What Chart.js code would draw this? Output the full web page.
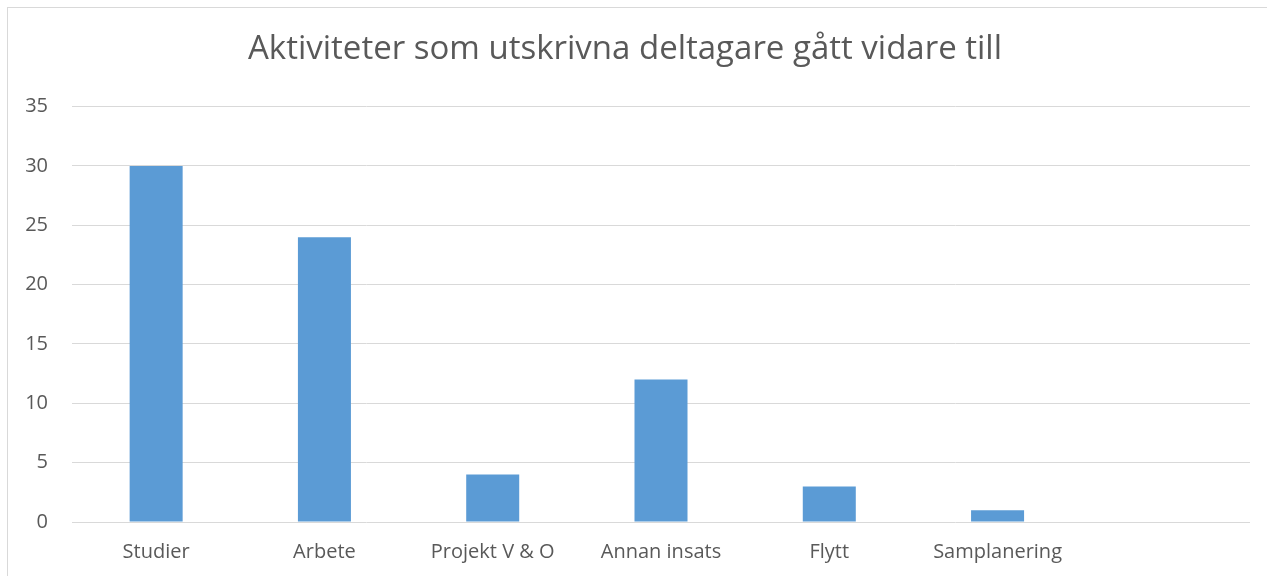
<!DOCTYPE html>
<html lang="sv">
<head>
    <meta charset="UTF-8">
    <title>Aktiviteter som utskrivna deltagare gått vidare till</title>
    <script src="https://cdn.jsdelivr.net/npm/chart.js"></script>
    <style>
        html, body { margin: 0; padding: 0; background: #fff; }
        #wrap {
            position: absolute; left: 0; top: 0;
            width: 1267px; height: 576px;
        }
        #frame {
            position: absolute; left: 7px; top: 7px;
            width: 1260px; height: 569px;
            border-top: 1px solid #d9d9d9;
            border-left: 1px solid #d9d9d9;
            box-sizing: border-box;
        }
    </style>
</head>
<body>
<div id="wrap">
    <div id="frame"></div>
    <canvas id="chart" width="1267" height="576"></canvas>
</div>
<script>
    // Kategorier och värden
    const categories = ['Studier', 'Arbete', 'Projekt V & O', 'Annan insats', 'Flytt', 'Samplanering', ''];
    const values = [30, 24, 4, 12, 3, 1, null];
    const yTicks = [0, 5, 10, 15, 20, 25, 30, 35];

    const textColor = '#595959';
    const gridColor = '#d9d9d9';
    const fontFamily = '"Open Sans", Lato, sans-serif';

    new Chart(document.getElementById('chart'), {
        type: 'bar',
        data: {
            labels: categories,
            datasets: [{
                label: 'Antal',
                data: values,
                backgroundColor: '#5b9bd5',
                borderWidth: 0,
                categoryPercentage: 1,
                barPercentage: 0.315
            }]
        },
        options: {
            responsive: false,
            animation: false,
            layout: { padding: { left: 0, right: 17, top: 0, bottom: 0 } },
            plugins: {
                legend: { display: false },
                tooltip: { enabled: false },
                title: {
                    display: true,
                    text: 'Aktiviteter som utskrivna deltagare gått vidare till',
                    color: textColor,
                    font: { family: fontFamily, size: 33, weight: 'normal' },
                    padding: { top: 30, bottom: 37 }
                }
            },
            scales: {
                x: {
                    grid: { display: false, drawTicks: false },
                    border: { display: false },
                    ticks: {
                        color: textColor,
                        font: { family: fontFamily, size: 20 },
                        padding: 18,
                        maxRotation: 0,
                        autoSkip: false
                    },
                    afterFit: (s) => { s.height = 54; }
                },
                y: {
                    min: 0,
                    max: 35,
                    afterBuildTicks: (s) => { s.ticks = yTicks.map(v => ({ value: v })); },
                    grid: { color: gridColor, lineWidth: 1, drawTicks: false },
                    border: { display: false },
                    ticks: {
                        color: textColor,
                        font: { family: fontFamily, size: 20 },
                        padding: 24
                    },
                    afterFit: (s) => { s.width = 72; }
                }
            }
        }
    });
</script>
</body>
</html>
